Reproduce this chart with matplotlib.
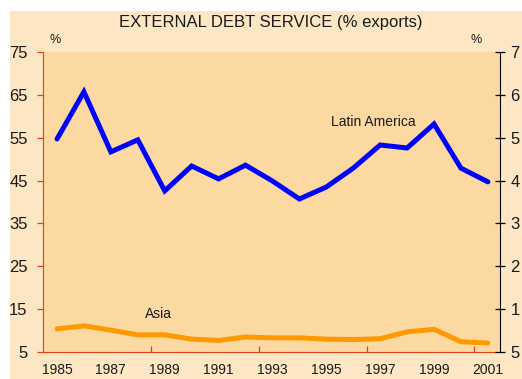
import matplotlib.pyplot as plt
from matplotlib.patches import Rectangle

plt.rcParams["font.family"] = ["Liberation Sans", "DejaVu Sans"]

# ---- data ----
years = list(range(1985, 2002))
latin_america = [54.7, 65.7, 51.7, 54.5, 42.6, 48.4, 45.4, 48.6, 44.9, 40.7,
                 43.5, 47.9, 53.3, 52.6, 58.2, 47.9, 44.7]
asia = [10.4, 11.1, 10.1, 9.0, 9.0, 8.0, 7.7, 8.5, 8.3, 8.3,
        8.0, 7.9, 8.1, 9.7, 10.3, 7.4, 7.1]
y_ticks = [5, 15, 25, 35, 45, 55, 65, 75]
# right-hand labels are cut by the image edge in the original, only first digit shows
right_labels = ["5", "1", "2", "3", "4", "5", "6", "7"]
x_labels = list(range(1985, 2002, 2))
x_minor = [1988.5, 1992.5, 1996.5, 2000.5]

panel_bg = "#fde6c4"
plot_bg = "#fdd9a2"
red = "#e0401a"
txt = "#1a1a1a"

fig = plt.figure(figsize=(5.22, 3.79), dpi=100, facecolor="white")
fig.patches.append(Rectangle((10 / 522, 0), 1, 1 - 11 / 379, transform=fig.transFigure,
                             facecolor=panel_bg, edgecolor="none", zorder=-10))

ax = fig.add_axes([43 / 522, 1 - 352 / 379, (500 - 43) / 522, (352 - 52) / 379])
ax.set_facecolor(plot_bg)

ax.plot(years, latin_america, color="#0000ff", lw=3.6, solid_capstyle="round", solid_joinstyle="miter")
ax.plot(years, asia, color="#ff9900", lw=3.6, solid_capstyle="round", solid_joinstyle="miter")

ax.set_xlim(1984.48, 2001.45)
ax.set_ylim(5, 75)

for s in ["top", "right"]:
    ax.spines[s].set_visible(False)
ax.spines["left"].set_color(red)
ax.spines["bottom"].set_color(red)

ax.set_yticks(y_ticks)
ax.tick_params(axis="y", colors=red, labelcolor=txt, length=4, width=0.9,
               labelsize=12, pad=7)
ax.set_xticks(x_labels)
ax.set_xticklabels([str(y) for y in x_labels])
ax.tick_params(axis="x", length=0, labelsize=10, labelcolor=txt, pad=8)
ax.set_xticks(x_minor, minor=True)
ax.tick_params(axis="x", which="minor", direction="in", colors=red, length=4, width=0.9)

ax2 = ax.twinx()
ax2.set_ylim(5, 75)
ax2.set_yticks(y_ticks)
ax2.set_yticklabels(right_labels)
for s in ["top", "left", "bottom"]:
    ax2.spines[s].set_visible(False)
ax2.spines["right"].set_color("black")
ax2.tick_params(axis="y", direction="inout", length=7, width=0.9, labelsize=12,
                labelcolor=txt, pad=4)

ax.text(1995.17, 58.6, "Latin America", fontsize=10, color=txt, ha="left", va="center")
ax.text(1988.75, 13.9, "Asia", fontsize=10, color=txt, ha="center", va="center")

fig.text(271 / 522, 1 - 22 / 379, "EXTERNAL DEBT SERVICE (% exports)", fontsize=12,
         color=txt, ha="center", va="center")
fig.text(55 / 522, 1 - 40 / 379, "%", fontsize=9, color=txt, ha="center", va="center")
fig.text(476 / 522, 1 - 40 / 379, "%", fontsize=9, color=txt, ha="center", va="center")

fig.savefig("out.png", dpi=100, facecolor="white")
